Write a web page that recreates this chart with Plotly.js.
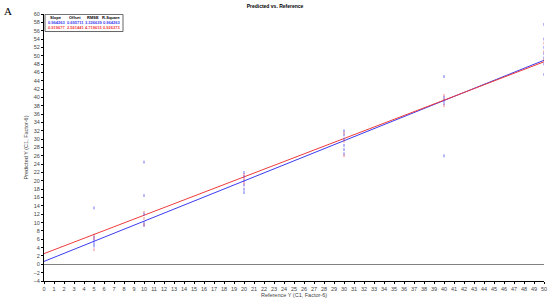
<!DOCTYPE html>
<html>
<head>
<meta charset="utf-8">
<script src="https://cdn.plot.ly/plotly-3.0.1.min.js"></script>
<style>
  body { margin: 0; background: #fff; }
  #chart { width: 550px; height: 299px; }
</style>
</head>
<body>
<div id="chart"></div>
<script>
// reference values and predicted values
const blueRef = [5, 5, 5, 5, 5, 10, 10, 10, 10, 10, 20, 20, 20, 20, 20, 20, 30, 30, 30, 30, 30, 30, 40, 40, 40, 40, 40, 50, 50, 50, 50, 50, 50, 50];
const bluePred = [13.5, 6.5, 5.8, 5.0, 4.4, 24.5, 16.5, 12.0, 10.0, 9.3, 22.0, 21.0, 20.0, 19.0, 18.0, 17.2, 32.0, 31.0, 30.0, 28.5, 27.5, 26.5, 45.0, 40.0, 39.2, 38.5, 26.0, 57.5, 54.0, 52.0, 50.5, 49.5, 48.0, 45.5];
const redRef = [5, 5, 5, 10, 10, 10, 20, 20, 20, 30, 30, 30, 40, 40, 40, 50, 50, 50];
const redPred = [7.0, 6.2, 3.5, 12.5, 11.0, 9.5, 21.5, 20.5, 19.5, 31.5, 29.5, 26.0, 40.5, 39.5, 38.0, 53.0, 51.0, 49.0];

const statHeaders = ['Slope', 'Offset', 'RMSE', 'R-Square'];
const blueStats = ['0.964263', '0.695711', '3.326639', '0.964263'];
const redStats = ['0.919677', '2.561441', '4.719615', '0.926373'];
const slopes = [0.964263, 0.919677];
const offsets = [0.695711, 2.561441];
const lineX = [0, 50];
const seriesColors = ['#3b3bf0', '#f03b3b'];

const traces = [0, 1].map(i => ({
  x: lineX,
  y: lineX.map(v => offsets[i] + slopes[i] * v),
  mode: 'lines',
  type: 'scatter',
  line: { color: seriesColors[i], width: 1 },
  hoverinfo: 'skip'
}));
traces.push({
  x: blueRef, y: bluePred, mode: 'markers', type: 'scatter',
  marker: { symbol: 'line-ns', size: 2, line: { color: 'rgba(59,59,240,0.75)', width: 1 } }
});
traces.push({
  x: redRef, y: redPred, mode: 'markers', type: 'scatter',
  marker: { symbol: 'line-ns', size: 2, line: { color: 'rgba(240,59,59,0.6)', width: 1 } }
});

// stats table
const colX = [1.2, 3.1, 4.9, 6.7];
const rowY = [59.2, 57.9, 56.8];
const annotations = [];
statHeaders.forEach((h, i) => {
  annotations.push({ x: colX[i], y: rowY[0], text: '<b>' + h + '</b>', showarrow: false,
    font: { size: 4, color: '#000' }, xref: 'x', yref: 'y' });
  annotations.push({ x: colX[i], y: rowY[1], text: '<b>' + blueStats[i] + '</b>', showarrow: false,
    font: { size: 4, color: seriesColors[0] }, xref: 'x', yref: 'y' });
  annotations.push({ x: colX[i], y: rowY[2], text: '<b>' + redStats[i] + '</b>', showarrow: false,
    font: { size: 4, color: seriesColors[1] }, xref: 'x', yref: 'y' });
});
annotations.push({ xref: 'paper', yref: 'paper', x: -0.072, y: 1.04, xanchor: 'center', yanchor: 'top',
  text: 'A', showarrow: false, font: { family: 'Liberation Serif, serif', size: 11, color: '#000' } });

const layout = {
  width: 550, height: 299,
  margin: { l: 44, r: 6, t: 14, b: 18 },
  paper_bgcolor: '#fff', plot_bgcolor: '#fff',
  showlegend: false,
  font: { family: 'Liberation Sans, Arial, sans-serif', size: 5, color: '#333' },
  title: { text: '<b>Predicted vs. Reference</b>', font: { size: 5, color: '#000' }, x: 0.5, y: 0.985, yanchor: 'top' },
  xaxis: {
    range: [0, 50], dtick: 1, tick0: 0, showgrid: false, zeroline: false,
    showline: true, linecolor: '#000', linewidth: 1,
    ticks: 'outside', ticklen: 2, tickcolor: '#000',
    tickfont: { size: 5.5, color: '#444' },
    title: { text: 'Reference Y (C1, Factor-6)', font: { size: 5.5, color: '#444' }, standoff: 0 }
  },
  yaxis: {
    range: [-4, 60], dtick: 2, tick0: 0, showgrid: false,
    zeroline: true, zerolinecolor: '#808080', zerolinewidth: 1,
    showline: true, linecolor: '#000', linewidth: 1,
    ticks: 'outside', ticklen: 2, tickcolor: '#000',
    tickfont: { size: 5.5, color: '#444' },
    title: { text: 'Predicted Y (C1, Factor-6)', font: { size: 5.5, color: '#444' }, standoff: 4 }
  },
  shapes: [{
    type: 'rect', xref: 'x', yref: 'y', x0: 0.1, x1: 7.9, y0: 55.8, y1: 59.9,
    line: { color: '#666', width: 1 }, fillcolor: 'rgba(255,255,255,0)'
  }],
  annotations: annotations
};

Plotly.newPlot('chart', traces, layout, { displayModeBar: false, staticPlot: true });
</script>
</body>
</html>
